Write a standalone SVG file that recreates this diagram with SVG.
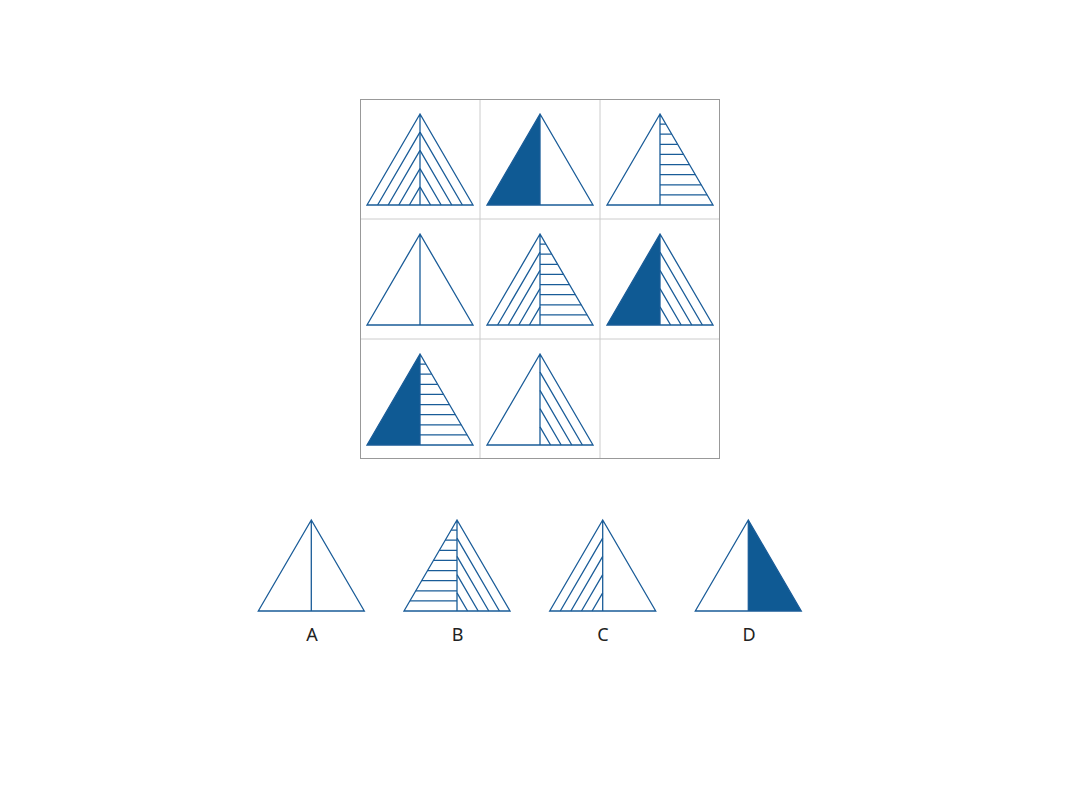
<svg xmlns="http://www.w3.org/2000/svg" xmlns:xlink="http://www.w3.org/1999/xlink" width="1080" height="810" viewBox="0 0 1080 810">
<style>
.ln{fill:none;stroke:#1a5c98;stroke-width:1.3;stroke-linejoin:miter}
.fl{fill:#0f5a94;stroke:none}
.gridO{fill:none;stroke:#999;stroke-width:1}
.gridI{stroke:#ccc;stroke-width:1}
.lbl{font-family:"Noto Sans","Liberation Sans",sans-serif;font-size:18px;fill:#222;text-anchor:middle}
</style>
<defs>
<path id="fillL" class="fl" d="M0,0 L-53,91 L0,91 Z"/>
<path id="fillR" class="fl" d="M0,0 L53,91 L0,91 Z"/>
<path id="tri" class="ln" d="M0,0 L-53,91 L53,91 Z M0,0 V91"/>
<path id="chevL" class="ln" d="M0,18.2 L-42.4,91 M0,36.4 L-31.8,91 M0,54.6 L-21.2,91 M0,72.8 L-10.6,91"/>
<path id="chevR" class="ln" d="M0,18.2 L42.4,91 M0,36.4 L31.8,91 M0,54.6 L21.2,91 M0,72.8 L10.6,91"/>
<path id="horR" class="ln" d="M0,10.11 H5.89 M0,20.22 H11.78 M0,30.33 H17.67 M0,40.44 H23.56 M0,50.56 H29.44 M0,60.67 H35.33 M0,70.78 H41.22 M0,80.89 H47.11"/>
<path id="horL" class="ln" d="M0,10.11 H-5.89 M0,20.22 H-11.78 M0,30.33 H-17.67 M0,40.44 H-23.56 M0,50.56 H-29.44 M0,60.67 H-35.33 M0,70.78 H-41.22 M0,80.89 H-47.11"/>
</defs>
<rect width="1080" height="810" fill="#fff"/>
<g id="grid">
<line class="gridI" x1="480" y1="99" x2="480" y2="459"/>
<line class="gridI" x1="600" y1="99" x2="600" y2="459"/>
<line class="gridI" x1="360" y1="219" x2="720" y2="219"/>
<line class="gridI" x1="360" y1="339" x2="720" y2="339"/>
<rect class="gridO" x="360.5" y="99.5" width="359" height="359"/>
</g>
<g id="cell1" transform="translate(420,114)"><use xlink:href="#chevL"/><use xlink:href="#chevR"/><use xlink:href="#tri"/></g>
<g id="cell2" transform="translate(540,114)"><use xlink:href="#fillL"/><use xlink:href="#tri"/></g>
<g id="cell3" transform="translate(660,114)"><use xlink:href="#horR"/><use xlink:href="#tri"/></g>
<g id="cell4" transform="translate(420,234)"><use xlink:href="#tri"/></g>
<g id="cell5" transform="translate(540,234)"><use xlink:href="#chevL"/><use xlink:href="#horR"/><use xlink:href="#tri"/></g>
<g id="cell6" transform="translate(660,234)"><use xlink:href="#fillL"/><use xlink:href="#chevR"/><use xlink:href="#tri"/></g>
<g id="cell7" transform="translate(420,354)"><use xlink:href="#fillL"/><use xlink:href="#horR"/><use xlink:href="#tri"/></g>
<g id="cell8" transform="translate(540,354)"><use xlink:href="#chevR"/><use xlink:href="#tri"/></g>
<g id="optA" transform="translate(311.3,520)"><use xlink:href="#tri"/></g>
<g id="optB" transform="translate(457,520)"><use xlink:href="#horL"/><use xlink:href="#chevR"/><use xlink:href="#tri"/></g>
<g id="optC" transform="translate(602.7,520)"><use xlink:href="#chevL"/><use xlink:href="#tri"/></g>
<g id="optD" transform="translate(748.3,520)"><use xlink:href="#fillR"/><use xlink:href="#tri"/></g>
<g id="labels">
<text class="lbl" x="312" y="641">A</text>
<text class="lbl" x="457.5" y="641">B</text>
<text class="lbl" x="603" y="641">C</text>
<text class="lbl" x="749" y="641">D</text>
</g>
</svg>
